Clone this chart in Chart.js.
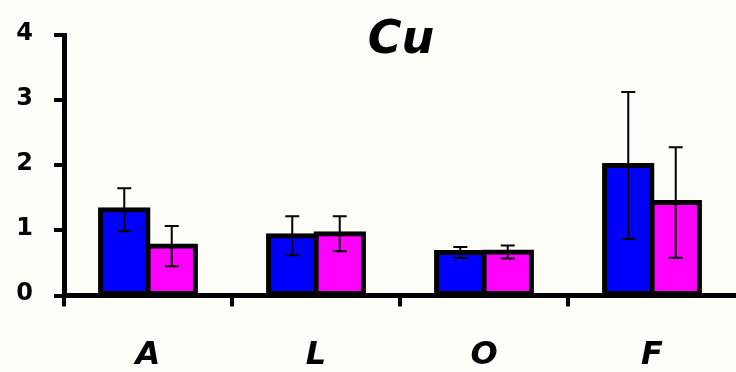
<!DOCTYPE html>
<html>
<head>
<meta charset="utf-8">
<script src="https://cdn.jsdelivr.net/npm/chart.js@4.4.1/dist/chart.umd.min.js"></script>
<style>
  html, body { margin: 0; padding: 0; background: #fefef9; }
  #wrap { width: 736px; height: 372px; position: relative; }
</style>
</head>
<body>
<div id="wrap"><canvas id="myChart"></canvas></div>
<script>
// data
const categories = ['A', 'L', 'O', 'F'];
const blueValues = [1.32, 0.92, 0.66, 2.00];
const blueErrors = [0.33, 0.30, 0.085, 1.13];
const pinkValues = [0.76, 0.95, 0.67, 1.43];
const pinkErrors = [0.31, 0.27, 0.10, 0.85];
const yTicks = [0, 1, 2, 3, 4];
const titleText = 'Cu';

// error bars, drawn through the y scale
const errorBars = {
    id: 'errorBars',
    afterDatasetsDraw(chart) {
        const ctx = chart.ctx;
        const y = chart.scales.y;
        chart.data.datasets.forEach((ds, i) => {
            const meta = chart.getDatasetMeta(i);
            meta.data.forEach((bar, j) => {
                const v = ds.data[j];
                const e = ds.errors[j];
                const top = y.getPixelForValue(v + e);
                const bottom = y.getPixelForValue(v - e);
                ctx.save();
                ctx.strokeStyle = '#000';
                ctx.lineWidth = 2;
                ctx.beginPath();
                ctx.moveTo(bar.x, top);
                ctx.lineTo(bar.x, bottom);
                ctx.moveTo(bar.x - 7, top);
                ctx.lineTo(bar.x + 7, top);
                ctx.moveTo(bar.x - 7, bottom);
                ctx.lineTo(bar.x + 7, bottom);
                ctx.stroke();
                ctx.restore();
            });
        });
    }
};

// title sits inside the plot area
const innerTitle = {
    id: 'innerTitle',
    afterDraw(chart) {
        const ctx = chart.ctx;
        const area = chart.chartArea;
        ctx.save();
        ctx.font = 'italic bold 46px "DejaVu Sans"';
        ctx.textAlign = 'center';
        ctx.textBaseline = 'middle';
        ctx.fillStyle = '#000';
        ctx.fillText(titleText, (area.left + area.right) / 2 + 1, 41);
        ctx.restore();
    }
};

const ctx = document.getElementById('myChart').getContext('2d');
const myChart = new Chart(ctx, {
    type: 'bar',
    data: {
        labels: categories,
        datasets: [{
            data: blueValues,
            errors: blueErrors,
            backgroundColor: '#0000ff',
            borderColor: '#000',
            borderWidth: 5,
            borderSkipped: false,
            inflateAmount: 2.5
        }, {
            data: pinkValues,
            errors: pinkErrors,
            backgroundColor: '#ff00ff',
            borderColor: '#000',
            borderWidth: 5,
            borderSkipped: false,
            inflateAmount: 2.5
        }]
    },
    options: {
        responsive: true,
        maintainAspectRatio: false,
        animation: false,
        layout: { padding: { top: 31, right: 0, bottom: 0, left: 0 } },
        datasets: { bar: { categoryPercentage: 0.565, barPercentage: 1.0 } },
        plugins: {
            legend: { display: false },
            tooltip: { enabled: false }
        },
        scales: {
            x: {
                offset: true,
                afterFit: (s) => { s.height = 76.5; },
                grid: {
                    drawOnChartArea: false,
                    offset: true,
                    // the extra line past the last tick is at the right edge: hide it
                    color: (c) => c.type === 'tick' ? '#000' : 'rgba(0,0,0,0)',
                    lineWidth: 4,
                    tickLength: 11
                },
                border: { display: true, color: '#000', width: 5 },
                ticks: {
                    color: '#000',
                    padding: 30,
                    font: { family: 'DejaVu Sans', size: 32, weight: 'bold', style: 'italic' }
                }
            },
            y: {
                min: 0,
                max: 4,
                afterFit: (s) => { s.width = 64; },
                afterBuildTicks: (s) => { s.ticks = yTicks.map(v => ({ value: v })); },
                grid: { drawOnChartArea: false, color: '#000', lineWidth: 4, tickLength: 10 },
                border: { display: true, color: '#000', width: 5 },
                ticks: {
                    color: '#000',
                    padding: 21,
                    labelOffset: -2,
                    font: { family: 'DejaVu Sans', size: 24, weight: 'bold' }
                }
            }
        }
    },
    plugins: [errorBars, innerTitle]
});
</script>
</body>
</html>
